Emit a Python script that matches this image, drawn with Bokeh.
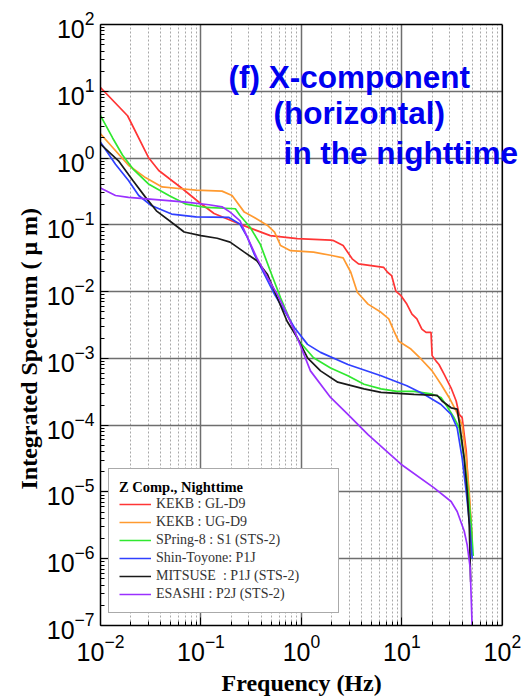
from bokeh.plotting import figure
from bokeh.models import (Range1d, FixedTicker, LogTickFormatter, Legend,
                          LegendItem, Label, LogAxis, Span, BoxAnnotation, Title)
from bokeh.embed import file_html
from bokeh.resources import INLINE

# Integrated displacement spectra, X component, nighttime (frequency in Hz, value in micrometres)
kekb_gl_f = [0.010, 0.0186, 0.030, 0.038, 0.065, 0.095, 0.135, 0.263, 0.49, 0.91, 1.95,
             2.1, 2.6, 3.2, 3.7, 6.6, 7.2, 7.9, 8.7, 9.8, 11.2, 12.6, 14.1, 15.8, 17.4,
             19.5, 20.0, 21.9, 23.4, 26.3, 30.9, 34.7, 37.2, 39.8, 43.7, 45.7, 48.4, 50.1]
kekb_gl_v = [11.4, 4.3, 1.02, 0.65, 0.35, 0.22, 0.148, 0.098, 0.069, 0.062, 0.059,
             0.058, 0.049, 0.031, 0.026, 0.023, 0.0195, 0.0174, 0.0102, 0.0087, 0.0065,
             0.0046, 0.0039, 0.00275, 0.00245, 0.00245, 0.0011, 0.00091, 0.00081,
             0.00058, 0.00036, 0.00023, 0.000145, 1.3e-4, 4.1e-5, 1.3e-5, 4.1e-6, 1.6e-6]

kekb_ug_f = [0.010, 0.019, 0.028, 0.041, 0.060, 0.089, 0.162, 0.204, 0.27, 0.34, 0.46,
             0.54, 0.62, 0.78, 1.32, 1.95, 2.6, 3.1, 3.6, 4.6, 6.2, 7.4, 8.3, 9.3, 12.3,
             15.5, 20.0, 24.5, 29.5, 34.7, 39.8, 43.7, 46.8, 49.0, 50.1]
kekb_ug_v = [2.3, 0.78, 0.51, 0.37, 0.35, 0.33, 0.32, 0.275, 0.155, 0.129, 0.098,
             0.078, 0.049, 0.041, 0.039, 0.035, 0.032, 0.0195, 0.0098, 0.0065, 0.0049,
             0.0039, 0.0026, 0.0018, 0.00138, 0.00098, 0.00065, 0.00041, 0.00026,
             0.000162, 1.0e-4, 3.2e-5, 1.0e-5, 3.2e-6, 1.8e-6]

spring8_f = [0.010, 0.0132, 0.0166, 0.021, 0.030, 0.048, 0.071, 0.112, 0.22, 0.245,
             0.31, 0.39, 0.49, 0.62, 0.78, 0.91, 1.32, 1.95, 2.9, 4.2, 6.2, 8.9, 13.2,
             19.5, 24.5, 28.2, 33.1, 37.2, 41.7, 45.7, 49.0, 51.3]
spring8_v = [4.3, 2.0, 1.1, 0.69, 0.41, 0.275, 0.204, 0.182, 0.174, 0.138, 0.091,
             0.051, 0.0204, 0.0081, 0.0036, 0.00195, 0.00102, 0.00072, 0.00055,
             0.00041, 0.00035, 0.00032, 0.00032, 0.000295, 0.00026, 0.00019, 0.000129,
             9.1e-5, 3.2e-5, 1.0e-5, 3.2e-6, 1.1e-6]

toyone_f = [0.010, 0.0141, 0.019, 0.024, 0.032, 0.051, 0.089, 0.19, 0.245, 0.29, 0.34,
            0.43, 0.54, 0.68, 0.85, 1.15, 1.55, 2.9, 6.2, 11.2, 16.6, 24.5, 30.9, 35.5,
            39.8, 43.7, 47.3, 50.1]
toyone_v = [1.72, 0.81, 0.46, 0.275, 0.195, 0.145, 0.132, 0.129, 0.102, 0.065, 0.036,
            0.018, 0.0091, 0.0051, 0.0029, 0.00162, 0.00123, 0.00081, 0.00055, 0.00039,
            0.00029, 0.000204, 0.000145, 9.1e-5, 3.2e-5, 1.0e-5, 3.2e-6, 1.0e-6]

mitsuse_f = [0.010, 0.0151, 0.021, 0.028, 0.036, 0.054, 0.068, 0.10, 0.145, 0.195,
             0.27, 0.36, 0.46, 0.575, 0.72, 0.91, 1.15, 1.55, 2.3, 4.2, 6.2, 13.2, 22.4,
             25.1, 30.9, 35.5, 38.0, 41.7, 44.7, 46.8, 48.4]
mitsuse_v = [1.62, 0.91, 0.46, 0.26, 0.162, 0.102, 0.078, 0.069, 0.063, 0.055, 0.039,
             0.029, 0.018, 0.0081, 0.0036, 0.00204, 0.00102, 0.00065, 0.00044, 0.00035,
             0.00031, 0.00029, 0.00028, 0.00023, 0.000182, 0.000174, 9.1e-5, 3.2e-5,
             1.0e-5, 3.2e-6, 4.5e-7]

esashi_f = [0.010, 0.0141, 0.019, 0.041, 0.071, 0.12, 0.162, 0.195, 0.245, 0.29, 0.36,
            0.46, 0.575, 0.72, 0.91, 1.23, 1.95, 2.9, 4.6, 9.8, 20.9, 30.9, 35.5, 41.7,
            44.7, 47.9, 50.1]
esashi_v = [0.355, 0.275, 0.257, 0.234, 0.219, 0.20, 0.186, 0.155, 0.115, 0.065, 0.032,
            0.0162, 0.0091, 0.0046, 0.00204, 0.00065, 0.00026, 0.000145, 7.2e-5, 2.6e-5,
            1.15e-5, 7.2e-6, 5.1e-6, 2.6e-6, 1.6e-6, 7.2e-7, 9.0e-8]

series_labels = ["KEKB : GL-D9", "KEKB : UG-D9", "SPring-8 : S1 (STS-2)",
                 "Shin-Toyone: P1J", "MITSUSE  : P1J (STS-2)", "ESASHI : P2J (STS-2)"]
series_colors = ["#ff3535", "#ff9a30", "#30e830", "#3040ff", "#1a1a1a", "#9a30ff"]

x_decades = [1e-2, 1e-1, 1e0, 1e1, 1e2]
y_decades = [1e-7, 1e-6, 1e-5, 1e-4, 1e-3, 1e-2, 1e-1, 1e0, 1e1, 1e2]

# The drawing area runs past 100 Hz up to the canvas edge so the caption can
# overhang the box; the box itself is closed at 100 Hz below.
F_MIN, F_MAX, F_CANVAS_END = 1e-2, 1e2, 170.0

p = figure(width=525, height=700, x_axis_type="log", y_axis_type="log",
           x_range=Range1d(F_MIN, F_CANVAS_END), y_range=Range1d(1e-7, 1e2),
           output_backend="svg", toolbar_location=None,
           min_border_left=100, min_border_right=0,
           min_border_top=24, min_border_bottom=75)
p.background_fill_color = "white"
p.border_fill_color = "white"
p.outline_line_color = None


def minor_between(decades):
    return [k * d for d in decades[:-1] for k in range(2, 10)]


x_ticker = FixedTicker(ticks=x_decades, minor_ticks=minor_between(x_decades))
y_ticker = FixedTicker(ticks=y_decades, minor_ticks=minor_between(y_decades))
p.xaxis.ticker = x_ticker
p.yaxis.ticker = y_ticker
p.xaxis.formatter = LogTickFormatter()
p.yaxis.formatter = LogTickFormatter()
p.xaxis.bounds = (F_MIN, F_MAX)

for ax in (p.xaxis, p.yaxis):
    ax.axis_line_color = "black"
    ax.axis_line_width = 1.5
    ax.major_tick_in = 8
    ax.major_tick_out = 0
    ax.minor_tick_in = 4
    ax.minor_tick_out = 0
    ax.major_tick_line_color = "black"
    ax.minor_tick_line_color = "black"
    ax.major_label_text_font = "Liberation Sans"
    ax.major_label_text_font_size = "25px"
    ax.major_label_text_color = "black"

p.xaxis.major_label_standoff = 8
p.yaxis.major_label_standoff = 6

# axis titles, placed from the panel start so they sit centred on the box
label_style = dict(text_font="Liberation Serif", text_font_style="bold",
                   text_font_size="24px", text_color="black", align="left")
p.add_layout(Title(text="Frequency (Hz)", offset=121, standoff=8, **label_style), "below")
p.add_layout(Title(text="Integrated Spectrum ( \u03bc m)", offset=136, standoff=4,
                   **label_style), "left")

# top edge of the box
top_edge = LogAxis(bounds=(F_MIN, F_MAX), ticker=x_ticker, axis_line_color="black",
                   axis_line_width=1.5, major_tick_in=0, major_tick_out=0,
                   minor_tick_in=0, minor_tick_out=0, major_label_text_font_size="0px",
                   major_label_text_alpha=0, major_label_standoff=0)
p.add_layout(top_edge, "above")

for g in (p.xgrid, p.ygrid):
    g.grid_line_color = "#6e6e6e"
    g.grid_line_width = 1.5
p.xgrid.minor_grid_line_color = "#a8a8a8"
p.xgrid.minor_grid_line_dash = "2 2"
p.xgrid.minor_grid_line_width = 1
p.ygrid.minor_grid_line_color = None

curves = [(kekb_gl_f, kekb_gl_v), (kekb_ug_f, kekb_ug_v), (spring8_f, spring8_v),
          (toyone_f, toyone_v), (mitsuse_f, mitsuse_v), (esashi_f, esashi_v)]

items = []
for (fx, vy), label, color in zip(curves, series_labels, series_colors):
    r = p.line(fx, vy, line_color=color, line_width=1.7)
    items.append(LegendItem(label=label, renderers=[r]))

# blank strip beyond 100 Hz, then the right edge of the box
p.add_layout(BoxAnnotation(left=F_MAX, fill_color="white", fill_alpha=1.0,
                           line_color=None))
p.add_layout(Span(location=F_MAX, dimension="height", line_color="black",
                  line_width=1.5))

legend = Legend(items=items, location=(8, 12), margin=0, padding=10,
                title="Z Comp., Nighttime", title_text_font="Liberation Serif",
                title_text_font_style="bold", title_text_font_size="14.5px",
                title_text_color="black", title_standoff=0,
                label_text_font="Liberation Serif", label_text_font_size="14px",
                label_text_color="#333333", label_standoff=5, label_width=172,
                label_height=14, glyph_height=14, glyph_width=32, spacing=2,
                border_line_color="#555555", border_line_width=1,
                background_fill_color="white", background_fill_alpha=1.0)
p.add_layout(legend)

title_lines = ["(f) X-component", "(horizontal)", "in the nighttime"]
title_x = [0.188, 0.528, 0.665]
title_y = [16.6, 4.8, 1.2]
for txt, tx, ty in zip(title_lines, title_x, title_y):
    p.add_layout(Label(x=tx, y=ty, text=txt, text_font="Liberation Sans",
                       text_font_style="bold", text_font_size="31.5px",
                       text_color="#0000f0", text_baseline="alphabetic"))

open("out.html", "w").write(file_html(p, INLINE))
